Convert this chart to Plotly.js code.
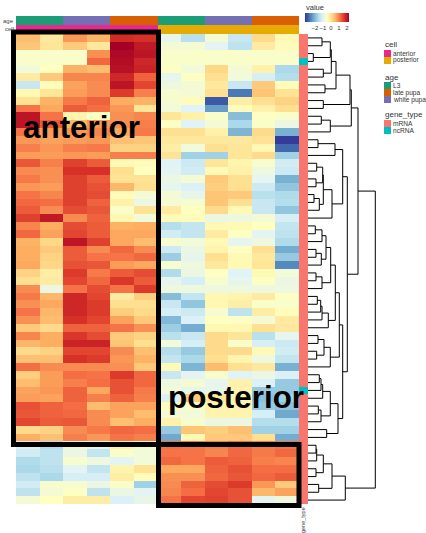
<!DOCTYPE html>
<html><head><meta charset="utf-8">
<script src="https://cdn.plot.ly/plotly-3.0.1.min.js"></script>
<style>html,body{margin:0;padding:0;background:#fff}</style></head>
<body><div id="chart" style="width:426px;height:533px"></div>
<script>
const ageLabels=['L3','late pupa','white pupa'];
const ageColors=['#1B9E77','#D95F02','#7570B3'];
const cellLabels=['anterior','posterior'];
const cellColors=['#E7298A','#E6AB02'];
const geneLabels=['mRNA','ncRNA'];
const geneColors=['#F8766D','#00BFC4'];
const ageColumns=[0,0,2,2,1,1,0,0,2,2,1,1];
const cellColumns=[0,0,0,0,0,0,1,1,1,1,1,1];
const ncRows=[3,45];
const tickVals=[-2,-1,0,1,2];

const anteriorValues=[
[0.45,-0.1,0.8,0.55,1.75,1.7],[0.35,-0.05,0.3,-0.1,2.25,1.95],[-0.6,-0.6,-0.6,0.85,2.15,2.0],[-0.6,-0.6,-0.6,1.2,2.1,1.8],
[-0.75,-0.5,0.55,0.45,2.05,1.85],[-0.15,0.3,0.95,0.95,1.8,1.25],[-1.3,-0.45,0.7,0.9,2.0,1.5],[-0.35,-0.05,0.75,0.9,1.6,1.0],
[0.0,0.55,1.05,1.25,0.6,0.55],[1.1,0.65,1.3,1.15,0.8,-0.05],[2.0,1.1,-0.3,-0.55,0.85,0.95],[2.0,1.3,0.5,0.8,0.85,1.0],
[1.1,0.75,0.8,0.95,0.65,1.05],[0.8,0.7,0.75,0.8,0.4,0.35],[1.0,0.8,1.0,1.05,0.2,0.2],[0.75,0.75,0.8,0.75,1.0,1.0],
[1.35,1.0,1.55,1.3,-0.4,-0.45],[0.9,0.85,1.7,1.7,0.05,-0.5],[1.05,0.85,1.55,1.3,0.0,0.0],[0.8,0.75,1.55,1.4,0.5,0.05],
[1.1,0.95,1.55,1.45,-0.45,-0.7],[1.2,1.15,1.55,1.25,-0.25,-0.85],[1.3,0.9,1.45,1.35,-0.6,0.0],[1.55,1.95,0.9,1.25,-0.35,-0.75],
[0.95,0.6,1.45,1.3,0.55,0.6],[1.2,0.7,1.5,1.3,0.65,0.65],[0.55,0.15,2.0,1.55,0.65,0.45],[0.6,0.3,1.3,0.9,1.2,0.9],
[0.6,0.2,1.3,1.1,1.1,1.2],[0.65,0.15,1.4,1.35,0.75,0.65],[0.2,-0.2,1.6,1.05,1.3,1.45],[0.05,-0.15,1.5,1.2,1.65,1.3],
[0.9,-0.85,1.1,1.45,1.1,1.6],[1.05,0.5,1.8,1.5,-0.15,0.25],[0.85,0.65,1.8,1.6,0.05,0.05],[1.1,0.5,1.8,1.6,0.25,0.1],
[0.85,0.45,1.7,1.5,0.7,0.3],[0.3,0.1,1.25,1.25,1.1,0.85],[0.95,0.6,1.65,1.45,0.3,0.2],[0.5,0.6,1.85,1.85,0.35,0.05],
[0.1,0.2,1.5,1.5,0.9,0.4],[0.4,0.4,1.7,1.6,0.8,0.55],[1.15,0.9,0.9,0.9,0.85,0.3],[0.25,0.75,1.15,1.1,1.6,1.2],
[0.45,0.75,1.0,1.15,1.4,1.2],[0.7,0.8,1.25,0.65,1.4,1.05],[0.75,0.7,1.25,1.0,1.25,1.0],[1.4,1.25,1.15,0.45,0.7,0.7],
[1.35,1.25,1.2,0.9,0.7,0.45],[1.5,1.3,1.35,0.9,0.4,0.6],[0.1,0.2,0.9,1.05,1.2,1.15],[0.6,0.4,1.0,0.8,1.1,1.0],
[-1.1,-1.5,-0.8,-1.0,-0.3,-0.7],[-1.2,-1.4,-0.85,-1.35,-0.6,-0.75],[-1.55,-1.4,-0.65,-0.8,-1.0,-0.75],[-1.6,-1.45,-1.0,-1.35,-0.3,0.0],
[-1.4,-1.6,-1.15,-1.15,-0.2,-0.45],[-1.2,-0.65,-0.65,-0.85,-0.6,-1.7],[-1.4,-0.7,-0.55,-1.4,-0.85,-1.0],[-0.7,-0.5,-0.2,-0.2,-1.1,-0.9]];

const posteriorValues=[
[-0.95,-1.45,-0.7,-1.3,0.1,-0.4],[-0.7,-0.7,-1.0,-1.4,-0.15,-0.45],[-0.6,-0.6,-0.6,-0.6,-0.6,-0.6],[-0.6,-0.6,-0.6,-0.6,-0.6,-0.6],
[-0.55,-0.75,0.15,-0.7,-0.25,-1.6],[-0.95,-0.55,0.05,-0.75,-1.15,-1.5],[-0.8,-0.7,-0.1,-1.3,0.3,-0.45],[-0.65,-0.7,0.05,-2.65,0.35,0.0],
[-0.65,-0.45,-2.95,-0.2,0.05,0.2],[-0.75,-1.05,-2.3,-0.45,-0.25,0.05],[-0.05,-0.25,-0.6,-1.95,-0.55,-0.6],[-0.55,-1.05,-0.7,-1.6,-0.6,-0.85],
[0.05,0.05,-0.25,-2.05,0.1,-2.1],[-0.1,-0.1,-0.1,-0.1,0.0,-3.2],[-0.2,-0.75,0.05,-0.05,-0.35,-2.8],[0.0,-1.7,-1.7,-0.05,0.1,-1.7],
[-1.05,-1.25,-0.05,-0.3,-0.65,-1.2],[-1.0,-1.2,-0.4,-0.25,-0.8,-1.25],[-0.85,-0.7,0.3,0.05,-0.95,-2.1],[-0.95,-1.1,0.25,0.05,-1.25,-1.85],
[-0.7,-0.9,0.35,0.3,-1.45,-1.55],[-0.7,-0.65,0.35,0.05,-1.3,-1.5],[-0.15,-0.5,0.1,-0.4,-1.3,-1.85],[-0.4,-0.45,-0.85,-0.8,-0.7,-1.15],
[-1.5,-1.35,-0.4,-0.4,-0.5,-1.35],[-1.2,-1.35,-0.15,-0.55,-1.0,-1.4],[-0.65,-0.75,-0.4,-0.95,-0.8,-1.55],[-1.25,-0.85,-0.3,-0.55,0.05,-2.15],
[-1.75,-0.95,0.05,-0.4,-0.1,-1.8],[-0.65,-0.8,-0.1,-0.4,-0.05,-2.5],[-1.55,-0.85,-0.55,-1.05,-0.4,-0.75],[-0.95,-1.15,-0.65,-0.95,-0.55,-0.85],
[-0.8,-0.8,-0.8,-0.8,-0.8,-0.8],[-1.95,-1.35,-0.35,-0.3,-0.15,-0.55],[-1.3,-1.85,-0.35,-0.2,-0.6,-0.6],[-1.15,-1.25,-0.65,-1.4,-0.2,-0.45],
[-2.0,-1.1,-0.5,-0.55,-0.7,-0.15],[-1.75,-2.15,-0.35,-0.35,0.05,-0.1],[-1.45,-1.3,0.1,-0.05,-1.45,-0.95],[-0.75,-1.15,0.1,-0.6,-1.15,-1.25],
[-1.5,-1.8,0.1,0.1,-0.4,-1.2],[-1.35,-1.6,0.05,-0.3,-0.8,-1.35],[-0.4,-2.05,0.45,0.05,-0.1,-2.1],[-1.3,-1.0,-0.65,-1.05,-0.85,-1.1],
[-0.8,-0.7,-0.95,-0.25,-1.1,-1.8],[-0.75,-0.9,-0.9,-0.3,-1.8,-1.8],[-1.1,0.3,-0.1,-0.3,-1.9,-1.7],[-0.45,-0.6,-0.3,-0.3,-1.8,-1.9],
[-0.7,-0.75,-0.3,-0.3,-1.15,-2.2],[-0.25,-0.65,-0.85,-0.85,-1.5,-1.5],[-1.8,0.35,0.25,0.4,-1.7,-1.7],[-2.2,-0.4,0.3,0.3,0.05,-2.15],
[1.15,1.1,1.0,1.2,1.05,1.1],[1.1,1.1,0.95,1.2,1.05,1.2],[1.2,1.1,1.3,1.25,1.0,0.95],[0.65,0.65,1.25,1.4,1.15,1.15],
[0.85,0.85,1.2,1.35,1.2,1.3],[0.9,1.25,1.45,1.6,0.8,0.3],[0.95,1.15,1.5,1.4,0.5,0.7],[1.1,1.5,1.55,1.4,-1.0,-0.8]];

// dendrogram: [node, childA, childB, height]; numbers are rows, strings are earlier nodes
const merges=[
['a',0,1,14],['b',2,3,5.3],['c','a','b',22.3],['d',4,5,15.3],['e','c','d',23.3],['f',6,7,17],['g','e','f',28],
['h',8,9,15.3],['i',10,11,13.3],['j','i',12,22.3],['k','g','h',42],['l','k','j',43.3],
['m',13,14,10],['n','m',15,27],['o',16,17,8.7],['p',18,19,8],['q','o','p',14.7],['r',20,21,6],['s','r',22,11.3],
['t','q','s',15.3],['u','t',23,24],['v','n','u',34.7],
['w',24,25,7.3],['x','w',26,14],['y',27,28,8],['z','y',29,13.3],['aa','x','z',18],['ab',30,31,8],['ac','ab',32,14],
['ad','aa','ac',22.7],['ae',33,34,9.3],['af','ae',35,12.7],['ag','af',36,14],['ah','ag',37,20.3],['ai','ad','ah',27.3],
['aj',38,39,10],['ak',40,41,8.7],['al','aj','ak',16],['am','al',42,22.3],['an','ai','am',31.3],
['ao',43,44,11.3],['ap','ao',45,13],['aq','ap',46,14.7],['ar',47,48,10.3],['as','ar',49,13],['at','aq','as',22.3],
['au',50,51,18.7],['av','at','au',30],['aw','an','av',34.7],['ax','v','aw',39.3],['ay','l','ax',50],
['az',52,53,8],['ba','az',54,8.7],['bb',55,56,8],['bc','ba','bb',15.3],['bd',57,58,10.7],['be','bc','bd',24],
['bf','be',59,37.3],['root','ay','bf',67.3]];

const W=426,H=533;
const dx=(a,b)=>[a/W,b/W], dy=(top,bot)=>[1-bot/H,1-top/H];
const rowsN=anteriorValues.length;
const heat=anteriorValues.map((r,i)=>r.concat(posteriorValues[i]));
const rdylbu=['#313695','#4575B4','#74ADD1','#ABD9E9','#E0F3F8','#FFFFBF','#FEE090','#FDAE61','#F46D43','#D73027','#A50026'];
const scale=rdylbu.map((c,i)=>[i/10,c]);
const disc=cs=>cs.flatMap((c,i)=>[[i/cs.length,c],[(i+1)/cs.length,c]]);

const nodes={};
const getNode=k=>typeof k==='number'?{y:k,h:0}:nodes[k];
const dxs=[],dys=[];
merges.forEach(([name,a,b,h])=>{
  const A=getNode(a),B=getNode(b);
  dxs.push(A.h,h,h,B.h,null); dys.push(A.y,A.y,B.y,B.y,null);
  nodes[name]={y:(A.y+B.y)/2,h};
});

const colIdx=heat[0].map((_,i)=>i);
const rowIdx=heat.map((_,i)=>i);
const traces=[
 {type:'heatmap',z:heat,x:colIdx,y:rowIdx,xaxis:'x',yaxis:'y',colorscale:scale,zmin:-3.25,zmax:2.25,hoverinfo:'skip',
  colorbar:{orientation:'h',x:327/W,xanchor:'center',y:1-13/H,yanchor:'top',len:44,lenmode:'pixels',thickness:9,thicknessmode:'pixels',
   outlinewidth:0,borderwidth:0,xpad:0,ypad:0,tickmode:'array',tickvals:tickVals,ticktext:tickVals.map(v=>v<0?'\u2212'+(-v):''+v),ticks:'',tickangle:0,ticklabelposition:'outside',
   tickfont:{size:6,color:'#333',family:'Liberation Sans'}}},
 {type:'heatmap',z:[ageColumns],x:colIdx,y:[0],xaxis:'x',yaxis:'y2',colorscale:disc(ageColors),zmin:-0.5,zmax:2.5,showscale:false,hoverinfo:'skip'},
 {type:'heatmap',z:[cellColumns],x:colIdx,y:[0],xaxis:'x',yaxis:'y3',colorscale:disc(cellColors),zmin:-0.5,zmax:1.5,showscale:false,hoverinfo:'skip'},
 {type:'heatmap',z:rowIdx.map(r=>[ncRows.includes(r)?1:0]),x:[0],y:rowIdx,xaxis:'x2',yaxis:'y',colorscale:disc(geneColors),zmin:-0.5,zmax:1.5,showscale:false,hoverinfo:'skip'},
 {type:'scatter',mode:'lines',x:dxs,y:dys,xaxis:'x3',yaxis:'y',line:{color:'#000',width:1,shape:'linear'},connectgaps:false,hoverinfo:'skip',showlegend:false,cliponaxis:false}
];

const hidden={visible:false,fixedrange:true};
const sw=(y0,c)=>({type:'rect',xref:'paper',yref:'paper',x0:384/W,x1:391/W,y0:1-(y0+7)/H,y1:1-y0/H,fillcolor:c,line:{width:0}});
const box=(x0,y0,x1,y1)=>({type:'rect',xref:'paper',yref:'paper',x0:x0/W,x1:x1/W,y0:1-y1/H,y1:1-y0/H,line:{color:'#000',width:5},fillcolor:'rgba(0,0,0,0)'});
const txt=(s,x,y,size,extra)=>Object.assign({text:s,xref:'paper',yref:'paper',x:x/W,y:1-y/H,showarrow:false,xanchor:'left',yanchor:'middle',borderpad:0,font:{size,color:'#333',family:'Liberation Sans'}},extra||{});

const annotations=[
 txt('value',305,8,7.5),
 txt('age',15,21,6,{xanchor:'right',font:{size:6,color:'#444',family:'Liberation Sans'}}),
 txt('cell',15,29,6,{xanchor:'right',font:{size:6,color:'#444',family:'Liberation Sans'}}),
 txt('gene_type',303,506,5.5,{xanchor:'center',yanchor:'top',textangle:-90,font:{size:5.5,color:'#444',family:'Liberation Sans'}}),
 txt('cell',384,45,8),
 txt(cellLabels[0],392,53.5,6.6),txt(cellLabels[1],392,60.5,6.6),
 txt('age',384,77.5,8),
 txt(ageLabels[0],392,85.5,6.6),txt(ageLabels[1],392,92.5,6.6),txt(ageLabels[2],392,99.5,6.6),
 txt('gene_type',384,115,8),
 txt(geneLabels[0],392,123.5,6.6),txt(geneLabels[1],392,130.5,6.6),
 txt('anterior',81,127,31.4,{xanchor:'center',font:{size:31.4,color:'#000',family:'Liberation Sans',weight:700}}),
 txt('posterior',235.5,397,31.4,{xanchor:'center',font:{size:31.4,color:'#000',family:'Liberation Sans',weight:700}})
];
const shapes=[
 sw(50,cellColors[0]),sw(57,cellColors[1]),
 sw(82,ageColors[0]),sw(89,ageColors[1]),sw(96,ageColors[2]),
 sw(120,geneColors[0]),sw(127,geneColors[1]),
 box(13.5,32,158.5,444.5),box(158.5,444.5,299,505.5)
];

Plotly.newPlot('chart',traces,{
 width:W,height:H,margin:{l:0,r:0,t:0,b:0,pad:0},paper_bgcolor:'#fff',plot_bgcolor:'#fff',showlegend:false,
 xaxis:Object.assign({domain:dx(16,299),range:[-0.5,11.5]},hidden),
 yaxis:Object.assign({domain:dy(34,504),range:[rowsN-0.5,-0.5]},hidden),
 yaxis2:Object.assign({domain:dy(16,25),range:[-0.5,0.5],anchor:'x'},hidden),
 yaxis3:Object.assign({domain:dy(25,34),range:[-0.5,0.5],anchor:'x'},hidden),
 xaxis2:Object.assign({domain:dx(299,308),range:[-0.5,0.5],anchor:'y'},hidden),
 xaxis3:Object.assign({domain:dx(308,376),range:[0,68],anchor:'y'},hidden),
 shapes,annotations
},{displayModeBar:false,staticPlot:true});
</script></body></html>
